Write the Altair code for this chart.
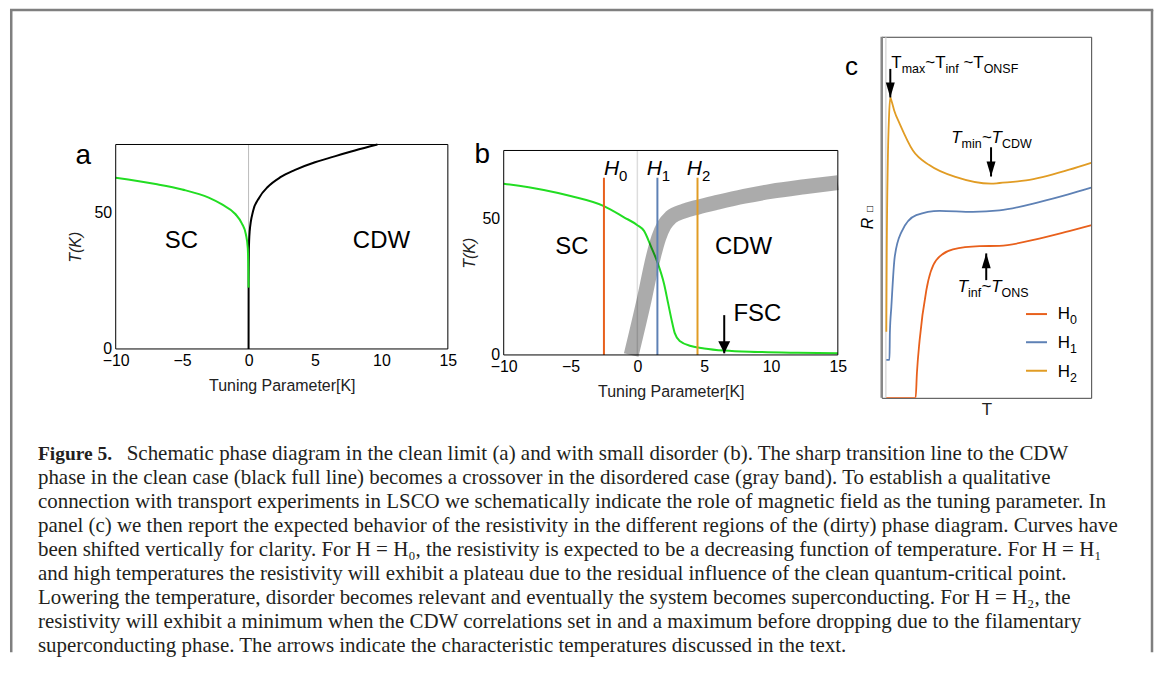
import altair as alt
import pandas as pd

# ---------------- data ----------------
# panel (a): clean limit
a_sc_x = [-10, -7, -5, -3, -2, -1, -0.5, -0.2, -0.06, -0.02, 0.0]
a_sc_T = [62.8, 60.5, 58.5, 55.5, 53.0, 49.5, 46.0, 42.0, 37.0, 30.0, 22.5]
a_cdw_x = [0.0, 0.003, 0.02, 0.08, 0.33, 0.8, 1.46, 2.4, 3.46, 5.0, 5.97, 8.0, 9.7]
a_cdw_T = [0.0, 25.0, 36.0, 43.0, 50.4, 55.5, 59.5, 63.0, 65.6, 68.5, 69.9, 72.8, 75.0]

# panel (b): small disorder
b_sc_x = [-10, -7, -5, -2.5, -1, 0, 0.5, 1, 1.5, 2, 2.3, 2.6, 2.8, 3.2, 4, 5, 6.5, 9, 12, 15]
b_sc_T = [62.8, 60.5, 58.3, 54.6, 50.5, 47.6, 45.5, 40, 34, 26, 19, 12, 8, 5, 3.3, 2.4, 1.6, 1.1, 0.8, 0.6]
band_x = [-0.46, 0.5, 1.2, 1.6, 2.0, 2.5, 3.5, 4.5, 6, 8, 10, 12.5, 15]
band_T = [0, 20, 36, 43, 47.5, 50.5, 52.8, 54.2, 56, 58.2, 60, 61.7, 63.2]
fields = ["0", "1", "2"]
field_x = [-2.5, 1.5, 4.5]
field_top = [65, 65, 65]
field_label_x = [-2.5, 0.7, 3.7]
field_label_T = 66
fsc_x, fsc_T0, fsc_T1 = 6.5, 14.6, 0.6

# panel (c): resistivity curves (arbitrary units, shifted)
c_H0_T = [2.2, 16.2, 16.8, 18.1, 21.3, 26.0, 34.0, 46.7, 56.2, 75.2, 89.5, 100]
c_H0_R = [0.0, 0.0, 6.8, 16.0, 29.8, 38.1, 41.1, 42.0, 42.1, 44.1, 46.2, 47.8]
c_H1_T = [2.2, 3.7, 3.9, 4.6, 6.2, 9.4, 16.5, 27.6, 43.5, 56.2, 75.2, 89.5, 100]
c_H1_R = [10.5, 10.5, 18.0, 25.2, 39.0, 45.9, 50.6, 51.8, 51.5, 51.9, 54.2, 56.4, 58.2]
c_H2_T = [2.2, 2.4, 2.9, 3.5, 4.1, 4.8, 6.0, 8.6, 14.9, 22.9, 35.6, 52.2, 56.2, 68.9, 89.5, 100]
c_H2_R = [18.3, 40.0, 65.0, 78.0, 83.2, 82.0, 79.5, 75.9, 68.5, 64.4, 61.1, 59.3, 59.5, 60.2, 63.2, 65.1]
series = ["H0", "H1", "H2"]
series_colors = ["#E8601C", "#5E81B5", "#E19C24"]
legend_T0, legend_T1 = 68.9, 78.9
legend_R = [23.2, 15.4, 7.5]
legend_label_T = 84
legend_label_R = [21.7, 13.7, 5.7]

caption_bold = "Figure 5."
caption_lines = [
    "Schematic phase diagram in the clean limit (a) and with small disorder (b). The sharp transition line to the CDW",
    "phase in the clean case (black full line) becomes a crossover in the disordered case (gray band). To establish a qualitative",
    "connection with transport experiments in LSCO we schematically indicate the role of magnetic field as the tuning parameter. In",
    "panel (c) we then report the expected behavior of the resistivity in the different regions of the (dirty) phase diagram. Curves have",
    "been shifted vertically for clarity. For H = H\u2080, the resistivity is expected to be a decreasing function of temperature. For H = H\u2081",
    "and high temperatures the resistivity will exhibit a plateau due to the residual influence of the clean quantum-critical point.",
    "Lowering the temperature, disorder becomes relevant and eventually the system becomes superconducting. For H = H\u2082, the",
    "resistivity will exhibit a minimum when the CDW correlations set in and a maximum before dropping due to the filamentary",
    "superconducting phase. The arrows indicate the characteristic temperatures discussed in the text.",
]

# ---------------- helpers ----------------
FONT = "Liberation Sans"
SERIF = "Liberation Serif"
GREEN = "#22dd22"
W = {'T': .611, 'm': .833, 'a': .556, 'x': .5, '~': .584, 'i': .222, 'n': .556, 'f': .278, ' ': .278,
     'O': .778, 'N': .722, 'S': .667, 'F': .611, 'C': .722, 'D': .722, 'W': .944, 'H': .722, 'R': .722}


def tw(s, size):
    return sum(W.get(c, .556) for c in s) * size


def rich(X, Y, x, y, segs, size, sub, italic=False):
    layers = []
    dx = 0.0
    df = pd.DataFrame({"x": [x], "y": [y]})
    for txt, is_sub in segs:
        fs = sub if is_sub else size
        if txt.startswith(" "):
            dx += tw(" ", fs)
            txt = txt[1:]
        style = "italic" if (italic and not is_sub) else "normal"
        layers.append(alt.Chart(df).mark_text(
            text=txt, align="left", baseline="alphabetic", font=FONT, fontSize=fs,
            fontStyle=style, dx=dx, dy=(0.28 * size if is_sub else 0), color="black"
        ).encode(x=X, y=Y))
        dx += tw(txt, fs)
    return layers


def arrow(X, Y, x, y0, y1, up, unit, half, width):
    shaft = alt.Chart(pd.DataFrame({"x": [x], "y": [y0], "y2": [y1]})).mark_rule(
        color="black", strokeWidth=width, strokeCap="butt").encode(x=X, y=Y, y2=alt.Y2("y2:Q"))
    path = (f"M{-half},1L{half},1L0,0Z" if up else f"M{-half},-1L{half},-1L0,0Z")
    head = alt.Chart(pd.DataFrame({"x": [x], "y": [y1]})).mark_point(
        shape=path, size=(2 * unit) ** 2, filled=True, color="black", opacity=1, strokeWidth=0
    ).encode(x=X, y=Y)
    return [shaft, head]


def label(X, Y, x, y, txt, size, **kw):
    return alt.Chart(pd.DataFrame({"x": [x], "y": [y]})).mark_text(
        text=txt, font=FONT, fontSize=size, align="center", baseline="middle", color="black", **kw
    ).encode(x=X, y=Y)


def line_df(xs, ys):
    return pd.DataFrame({"x": xs, "y": ys, "i": range(len(xs))})


def frame_rect(X, Y, x0, x1, y0, y1):
    return alt.Chart(pd.DataFrame({"x": [x0], "x2": [x1], "y": [y0], "y2": [y1]})).mark_rect(
        fillOpacity=0, stroke="black", strokeWidth=1).encode(
        x=X, x2=alt.X2("x2:Q"), y=Y, y2=alt.Y2("y2:Q"))


def xy_axes(xrange, yrange, ytp):
    x_axis = alt.Axis(values=[-10, -5, 0, 5, 10, 15], title="Tuning Parameter[K]", labelFont=FONT,
                      labelFontSize=16, labelColor="black", titleFont=FONT, titleFontSize=16,
                      titleFontWeight="normal", titleColor="#222", domain=False, ticks=False,
                      labelPadding=4, titlePadding=9, grid=False, labelFlush=False)
    y_axis = alt.Axis(values=[0, 50], title="T(K)", labelFont=FONT, labelFontSize=16, labelColor="black",
                      titleFont=FONT, titleFontSize=16, titleFontWeight="normal", titleFontStyle="italic",
                      titleColor="#222", domain=False, ticks=False, labelPadding=4, titlePadding=ytp,
                      grid=False)
    X = alt.X("x:Q", scale=alt.Scale(domain=[-10, 15], range=xrange, nice=False, zero=False), axis=x_axis)
    Y = alt.Y("y:Q", scale=alt.Scale(domain=[0, 75], range=yrange, nice=False, zero=False), axis=y_axis)
    return X, Y


# ---------------- panel a (view: page x 114..503, y 36..349) ----------------
XA, YA = xy_axes([0, 333], [313, 108], 11)
zero_a = alt.Chart(pd.DataFrame({"x": [0], "y": [0], "y2": [75]})).mark_rule(
    color="#bbbbbb", strokeWidth=1).encode(x=XA, y=YA, y2=alt.Y2("y2:Q"))
cdw_a = alt.Chart(line_df(a_cdw_x, a_cdw_T)).mark_line(
    color="black", strokeWidth=2, interpolate="monotone").encode(x=XA, y=YA, order="i:Q")
sc_a = alt.Chart(line_df(a_sc_x, a_sc_T)).mark_line(
    color=GREEN, strokeWidth=2, interpolate="monotone").encode(x=XA, y=YA, order="i:Q")

# caption + outer frame live in panel a's layer (pixel offsets from panel a's origin)
one = pd.DataFrame({"v": [0]})
cap_layers = []
for i, txt in enumerate(caption_lines):
    cap_layers.append(alt.Chart(one).mark_text(
        text=txt, align="left", baseline="alphabetic", font=SERIF, fontSize=21, color="#231f20",
        dx=(89 if i == 0 else 0)).encode(x=alt.value(-78), y=alt.value(424 + 24.1 * i)))
cap_layers.append(alt.Chart(one).mark_text(
    text=caption_bold, align="left", baseline="alphabetic", font=SERIF, fontSize=19.5, fontWeight="bold",
    color="#231f20").encode(x=alt.value(-78), y=alt.value(424)))
fr = dict(color="#7f7f7f", strokeWidth=2.5)
cap_layers += [
    alt.Chart(one).mark_rule(**fr).encode(x=alt.value(-104.75), y=alt.value(-26.75), y2=alt.value(617)),
    alt.Chart(one).mark_rule(**fr).encode(x=alt.value(1039), y=alt.value(-26.75), y2=alt.value(617)),
    alt.Chart(one).mark_rule(**fr).encode(x=alt.value(-106), x2=alt.value(1040.25), y=alt.value(-26.75)),
]

panel_a = alt.layer(
    zero_a, cdw_a, sc_a, frame_rect(XA, YA, -10, 15, 0, 75),
    label(XA, YA, -5.06, 39.6, "SC", 24),
    label(XA, YA, 10.0, 39.6, "CDW", 24),
    label(XA, YA, -12.45, 70.8, "a", 28),
    *cap_layers,
).properties(width=389, height=313)

# ---------------- panel b (view: page x 503..882, y 36..355) ----------------
XB, YB = xy_axes([0, 335], [319, 114], 4)
zero_b = alt.Chart(pd.DataFrame({"x": [0], "y": [0], "y2": [75]})).mark_rule(
    color="#dddddd", strokeWidth=1.5).encode(x=XB, y=YB, y2=alt.Y2("y2:Q"))
sc_b = alt.Chart(line_df(b_sc_x, b_sc_T)).mark_line(
    color=GREEN, strokeWidth=2, interpolate="monotone").encode(x=XB, y=YB, order="i:Q")
band_b = alt.Chart(line_df(band_x, band_T)).mark_line(
    color="black", opacity=0.33, strokeWidth=15, strokeCap="butt", interpolate="monotone").encode(
    x=XB, y=YB, order="i:Q")
fdf = pd.DataFrame({"x": field_x, "y": [0, 0, 0], "y2": field_top, "f": fields})
h_lines = alt.Chart(fdf).mark_rule(strokeWidth=2).encode(
    x=XB, y=YB, y2=alt.Y2("y2:Q"),
    color=alt.Color("f:N", scale=alt.Scale(domain=fields, range=series_colors), legend=None))
h_labels = []
for f, lx in zip(fields, field_label_x):
    h_labels += rich(XB, YB, lx, field_label_T, [("H", False), (f, True)], 21, 15, italic=True)
panel_b = alt.layer(
    zero_b, sc_b, band_b, h_lines, frame_rect(XB, YB, -10, 15, 0, 75),
    *arrow(XB, YB, fsc_x, fsc_T0, fsc_T1, False, 12, 0.5, 2),
    *h_labels,
    label(XB, YB, -4.9, 39.6, "SC", 24),
    label(XB, YB, 7.94, 39.6, "CDW", 24),
    label(XB, YB, 8.98, 14.9, "FSC", 24),
    label(XB, YB, -11.6, 73.5, "b", 28),
).properties(width=379, height=319)

# ---------------- panel c (view: page x 882..1092, y 36..398) ----------------
XC = alt.X("x:Q", scale=alt.Scale(domain=[0, 100], nice=False, zero=False),
           axis=alt.Axis(title="T", labels=False, ticks=False, domain=False, grid=False,
                         titleFont=FONT, titleFontSize=17, titleFontWeight="normal",
                         titleColor="#222", titlePadding=4))
YC = alt.Y("y:Q", scale=alt.Scale(domain=[0, 100], nice=False, zero=False), axis=None)
rows = []
for s, ts, rs in [("H0", c_H0_T, c_H0_R), ("H1", c_H1_T, c_H1_R), ("H2", c_H2_T, c_H2_R)]:
    for k, (t, r) in enumerate(zip(ts, rs)):
        rows.append({"x": t, "y": r, "s": s, "i": k})
cdf = pd.DataFrame(rows)
CCOL = alt.Color("s:N", scale=alt.Scale(domain=series, range=series_colors), legend=None)
curves_c = alt.Chart(cdf).mark_line(strokeWidth=1.8, clip=True, interpolate="monotone").encode(
    x=XC, y=YC, color=CCOL, detail="s:N", order="i:Q")
left_c = alt.Chart(pd.DataFrame({"x": [0], "y": [0], "y2": [100]})).mark_rule(
    color="#888888", strokeWidth=2.5).encode(x=XC, y=YC, y2=alt.Y2("y2:Q"))
axis0_c = alt.Chart(pd.DataFrame({"x": [2], "y": [0], "y2": [100]})).mark_rule(
    color="#c8c8c8", strokeWidth=1).encode(x=XC, y=YC, y2=alt.Y2("y2:Q"))
ldf = pd.DataFrame({"x": [legend_T0] * 3, "x2": [legend_T1] * 3, "y": legend_R, "s": series})
leg_lines = alt.Chart(ldf).mark_rule(strokeWidth=2).encode(x=XC, x2=alt.X2("x2:Q"), y=YC, color=CCOL)
leg_labels = []
for f, ly in zip(fields, legend_label_R):
    leg_labels += rich(XC, YC, legend_label_T, ly, [("H", False), (f, True)], 17, 12.5)
ann = []
ann += rich(XC, YC, 4.6, 91.3, [("T", False), ("max", True), ("~", False), ("T", False), ("inf", True),
                                 (" ~", False), ("T", False), ("ONSF", True)], 17, 12.5)
ann += rich(XC, YC, 33.2, 70.5, [("T", False), ("min", True), ("~", False), ("T", False), ("CDW", True)],
            17, 12.5, italic=True)
ann += rich(XC, YC, 36.3, 29.2, [("T", False), ("inf", True), ("~", False), ("T", False), ("ONS", True)],
            17, 12.5, italic=True)
panel_c = alt.layer(
    axis0_c, left_c, curves_c, leg_lines, *leg_labels, *ann,
    *arrow(XC, YC, 4.1, 91.1, 83.2, False, 15, 0.3, 2),
    *arrow(XC, YC, 52.2, 69.4, 61.3, False, 15, 0.3, 2),
    *arrow(XC, YC, 49.9, 32.6, 40.0, True, 15, 0.3, 2),
    label(XC, YC, -6.5, 48.3, "R", 16, angle=270, fontStyle="italic"),
    label(XC, YC, -5.6, 52.3, "\u25a1", 10, angle=270),
    label(XC, YC, -14.4, 91.7, "c", 26),
).properties(width=210, height=362, view=alt.ViewBackground(stroke="#444444", strokeWidth=1))

# ---------------- layout ----------------
chart = alt.hconcat(panel_a, panel_b, panel_c, spacing=0, bounds="flush").properties(
    padding=0, background="white"
).configure_view(stroke=None).configure_axis(grid=False)

chart.save("out.html", embed_options={"renderer": "svg", "actions": False})
